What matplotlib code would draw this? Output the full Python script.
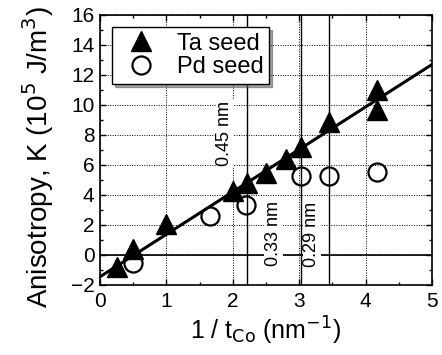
import matplotlib
matplotlib.use("Agg")
import matplotlib.pyplot as plt
from matplotlib.ticker import MultipleLocator

plt.rcParams['font.family'] = ['Liberation Sans', 'DejaVu Sans']

ta_x = [0.25, 0.5, 1.0, 2.0, 2.22, 2.5, 2.8, 3.03, 3.45, 4.17, 4.17]
ta_y = [-0.8, 0.4, 2.1, 4.3, 4.8, 5.5, 6.4, 7.2, 8.9, 11.0, 9.7]
pd_x = [0.5, 1.66, 2.2, 3.03, 3.45, 4.17]
pd_y = [-0.55, 2.6, 3.35, 5.3, 5.3, 5.55]
fit_x = [0.0, 5.0]
fit_y = [-1.45, 12.7]
vlines_x = [2.22, 3.03, 3.45]
vlabels = ["0.45 nm", "0.33 nm", "0.29 nm"]
vlabel_pos = [(1.88, 8.1), (2.61, 1.45), (3.19, 1.4)]

fig = plt.figure(figsize=(4.42, 3.55), dpi=100)
ax = fig.add_axes([100/442, 1-285/355, 332/442, 270/355])

ax.set_xlim(0, 5)
ax.set_ylim(-2, 16)
ax.xaxis.set_major_locator(MultipleLocator(1))
ax.xaxis.set_minor_locator(MultipleLocator(0.5))
ax.yaxis.set_major_locator(MultipleLocator(2))
ax.yaxis.set_minor_locator(MultipleLocator(1))
ax.grid(True, which='major', color='black', linestyle=(0, (1, 1.5)), linewidth=0.7)
ax.tick_params(which='both', direction='in', top=True, right=True, labelsize=15, width=1)
ax.tick_params(which='major', length=4)
ax.tick_params(which='minor', length=2)
ax.tick_params(axis='x', which='major', pad=5)
ax.tick_params(axis='y', which='major', pad=4)
for s in ax.spines.values():
    s.set_linewidth(1.2)

ax.axhline(0, color='black', lw=1.2)
for xv in vlines_x:
    ax.axvline(xv, color='black', lw=1.0)
for lab, (px, py) in zip(vlabels, vlabel_pos):
    ax.text(px, py, lab, rotation=90, ha='center', va='center', fontsize=13,
            bbox=dict(facecolor='white', edgecolor='none', pad=0.5))

ax.plot(fit_x, fit_y, color='black', lw=2.2, zorder=3)
ax.plot(ta_x, ta_y, linestyle='none', marker='^', markersize=14, color='black',
        label='Ta seed', zorder=4)
ax.plot(pd_x, pd_y, linestyle='none', marker='o', markersize=13, markerfacecolor='none',
        markeredgecolor='black', markeredgewidth=1.6, label='Pd seed', zorder=4)

leg = ax.legend(loc='upper left', fontsize=17, frameon=True, fancybox=False, shadow=True,
                borderaxespad=0.5, handletextpad=0.5, borderpad=0.25, labelspacing=0.05,
                handlelength=2.0, framealpha=1)
leg.get_frame().set_edgecolor('black')
leg.get_frame().set_linewidth(1.0)

ax.set_xlabel(r'1 / t$_{\mathrm{Co}}$ (nm$^{\mathrm{-1}}$)', fontsize=18, labelpad=3)
ax.set_ylabel(r'Anisotropy, K (10$^{\mathrm{5}}$ J/m$^{\mathrm{3}}$)', fontsize=20)
ax.yaxis.set_label_coords(-0.133, 0.474)

fig.savefig('out.png', dpi=100)
